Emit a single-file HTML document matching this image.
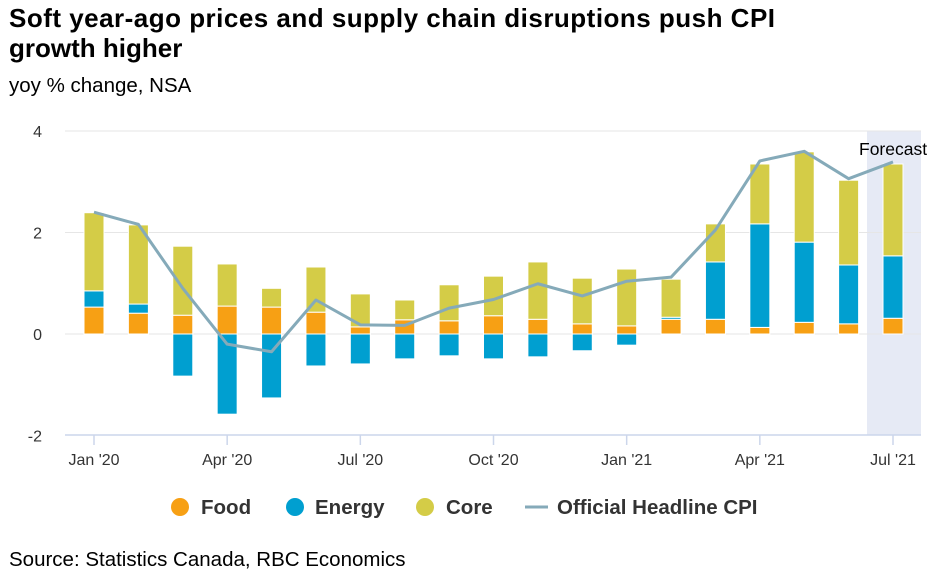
<!DOCTYPE html>
<html><head><meta charset="utf-8"><style>
body{margin:0;background:#fff;font-family:"Liberation Sans",Arial,sans-serif;}
#wrap{position:relative;width:938px;height:577px;overflow:hidden;}
</style></head><body>
<div id="wrap">
<svg id="chart" width="938" height="577" xmlns="http://www.w3.org/2000/svg">
<text x="9" y="27" font-size="26" font-weight="bold" fill="#000" textLength="766">Soft year-ago prices and supply chain disruptions push CPI</text>
<text x="9" y="57" font-size="26" font-weight="bold" fill="#000">growth higher</text>
<text x="9" y="92" font-size="20.5" fill="#000">yoy % change, NSA</text>
<text x="9" y="566" font-size="20.5" fill="#000">Source: Statistics Canada, RBC Economics</text>
<g id="plot"></g>
<g id="legend" font-size="20.5" font-weight="bold" fill="#333">
<circle cx="180" cy="507" r="9" fill="#f7a014"/>
<text x="201" y="514">Food</text>
<circle cx="295" cy="507" r="9" fill="#009fd0"/>
<text x="315" y="514">Energy</text>
<circle cx="425" cy="507" r="9" fill="#d4cc47"/>
<text x="446" y="514">Core</text>
<line x1="525" y1="507" x2="548" y2="507" stroke="#85aab9" stroke-width="3"/>
<text x="557" y="514">Official Headline CPI</text>
</g>
</svg>
</div>
<script>
const categories=["Jan '20","Feb '20","Mar '20","Apr '20","May '20","Jun '20","Jul '20","Aug '20","Sep '20","Oct '20","Nov '20","Dec '20","Jan '21","Feb '21","Mar '21","Apr '21","May '21","Jun '21","Jul '21"];
const food=[0.53,0.41,0.37,0.55,0.53,0.43,0.14,0.28,0.26,0.36,0.29,0.2,0.16,0.29,0.29,0.13,0.23,0.2,0.31];
const energy=[0.32,0.18,-0.83,-1.58,-1.26,-0.63,-0.59,-0.49,-0.43,-0.49,-0.45,-0.33,-0.22,0.04,1.13,2.04,1.58,1.16,1.23];
const core=[1.54,1.56,1.36,0.83,0.37,0.89,0.65,0.39,0.71,0.78,1.13,0.9,1.12,0.75,0.75,1.18,1.78,1.67,1.81];
const cpi=[2.4,2.16,0.9,-0.2,-0.35,0.67,0.18,0.17,0.51,0.68,0.99,0.75,1.04,1.12,2.05,3.41,3.6,3.06,3.39];
const yTicks=[-2,0,2,4];
const xTickIdx=[0,3,6,9,12,15,18];
const xTickLabels=["Jan '20","Apr '20","Jul '20","Oct '20","Jan '21","Apr '21","Jul '21"];
const forecastStart=18;

const NS="http://www.w3.org/2000/svg";
const plotG=document.getElementById('plot');
const pLeft=65,pRight=921,pTop=131,pBottom=435;
const yS=v=>334-v*50.75;
const step=(893-94)/(categories.length-1);
const xS=i=>94+i*step;
function el(t,a){const e=document.createElementNS(NS,t);for(const k in a)e.setAttribute(k,a[k]);plotG.appendChild(e);return e;}
let fb=el('rect',{x:xS(forecastStart)-26,y:pTop,width:pRight-(xS(forecastStart)-26),height:pBottom-pTop,fill:'#e6eaf5'});


yTicks.forEach(t=>{
 if(t!==-2){const l=el('line',{x1:pLeft,x2:pRight,y1:yS(t),y2:yS(t),stroke:'#e6e6e6','stroke-width':1});
 
 }
 const tx=el('text',{x:42,y:yS(t)+6,'font-size':16,fill:'#333','text-anchor':'end'});tx.textContent=t;
 
 
});
const bw=20;
function bar(i,v0,v1,c,n){const a=Math.min(yS(v0),yS(v1)),b=Math.max(yS(v0),yS(v1));
 const r=el('rect',{x:xS(i)-bw/2,y:a,width:bw,height:b-a,fill:c,stroke:'#fff','stroke-width':1});
 
 }
categories.forEach((c,i)=>{
 bar(i,0,food[i],'#f7a014','bar-food');
 let pos=food[i];
 if(energy[i]>=0){bar(i,pos,pos+energy[i],'#009fd0','bar-energy');pos+=energy[i];}
 else bar(i,0,energy[i],'#009fd0','bar-energy');
 bar(i,pos,pos+core[i],'#d4cc47','bar-core');
});
const pl=el('polyline',{points:cpi.map((v,i)=>xS(i)+','+yS(v)).join(' '),fill:'none',stroke:'#85aab9','stroke-width':3,'stroke-linejoin':'round'});


const ax=el('line',{x1:pLeft,x2:pRight,y1:pBottom,y2:pBottom,stroke:'#ccd6eb','stroke-width':1.5});


xTickIdx.forEach((i,k)=>{
 const t=el('line',{x1:xS(i),x2:xS(i),y1:pBottom,y2:pBottom+10,stroke:'#ccd6eb','stroke-width':1.5});
 
 
 const tx=el('text',{x:xS(i),y:pBottom+30,'font-size':16,fill:'#333','text-anchor':'middle'});tx.textContent=xTickLabels[k];
 
 
});
const fl=el('text',{x:859,y:155,'font-size':17.5,fill:'#000'});fl.textContent='Forecast';


</script>
</body></html>
